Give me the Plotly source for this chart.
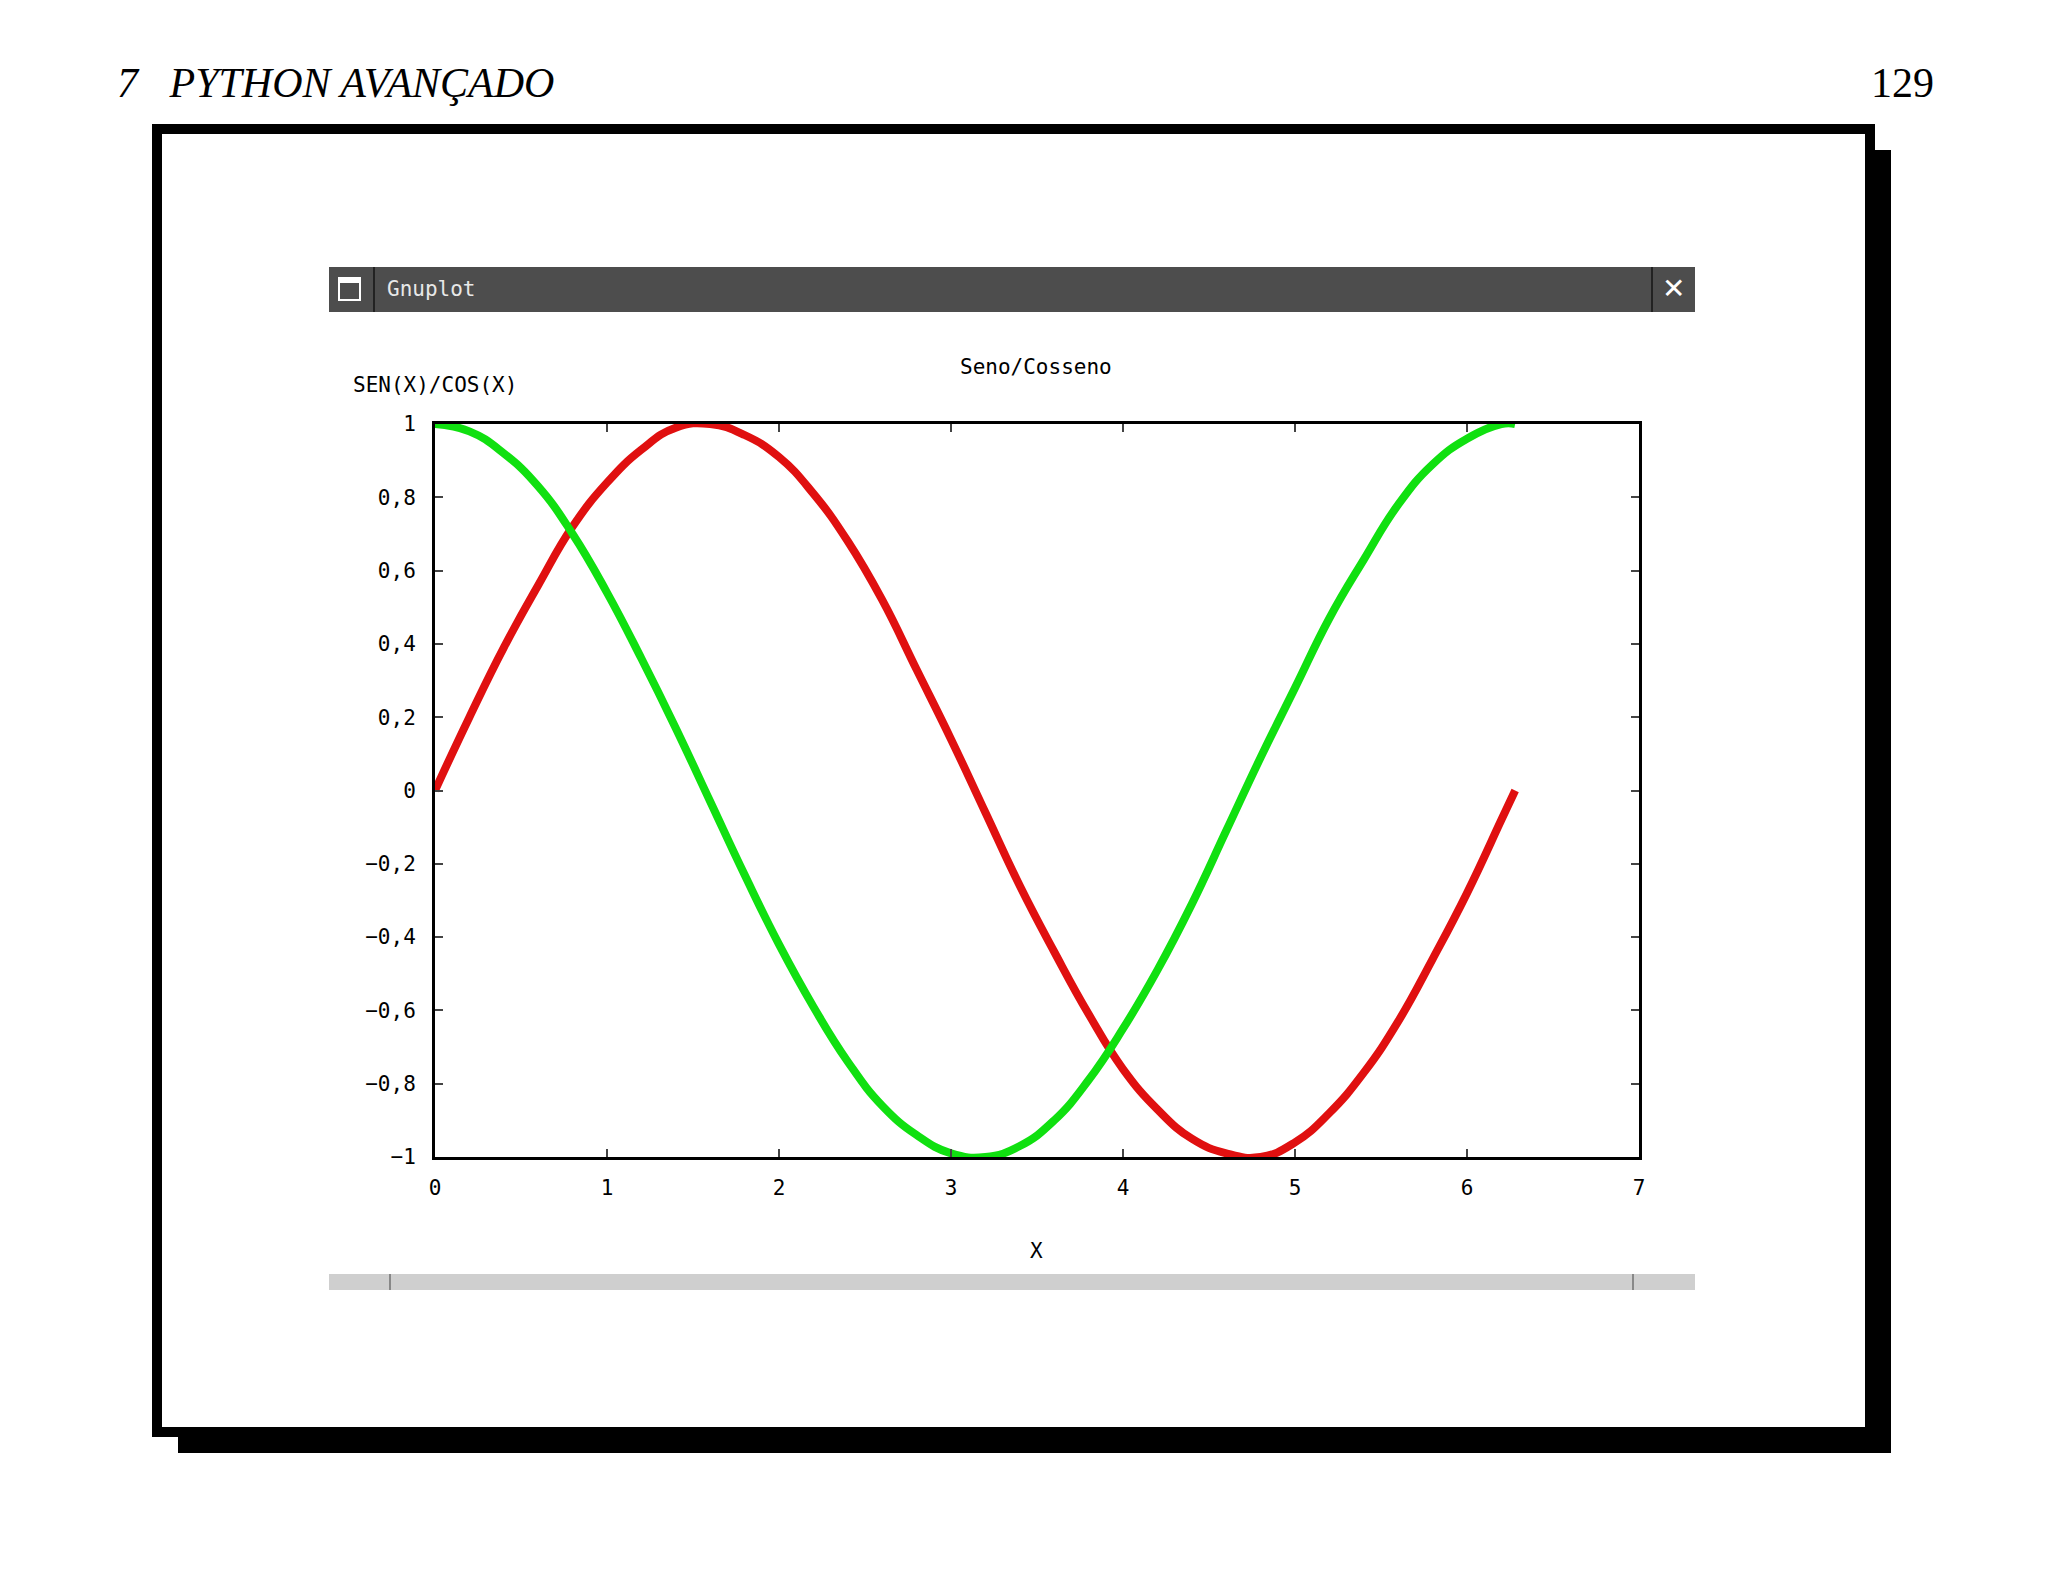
import plotly.graph_objects as go

x_vals = [0,0.2,0.4,0.6,0.8,1.0,1.2,1.4,1.6,1.8,2.0,2.2,2.4,2.6,2.8,3.0,3.2,3.4,3.6,3.8,4.0,4.2,4.4,4.6,4.8,5.0,5.2,5.4,5.6,5.8,6.0,6.2,6.28]
sen_vals = [0,0.2,0.39,0.56,0.72,0.84,0.93,0.99,1.0,0.97,0.91,0.81,0.68,0.52,0.33,0.14,-0.06,-0.26,-0.44,-0.61,-0.76,-0.87,-0.95,-0.99,-1.0,-0.96,-0.88,-0.77,-0.63,-0.46,-0.28,-0.08,0.0]
cos_vals = [1,0.98,0.92,0.83,0.70,0.54,0.36,0.17,-0.03,-0.23,-0.42,-0.59,-0.74,-0.86,-0.94,-0.99,-1.0,-0.97,-0.90,-0.79,-0.65,-0.49,-0.31,-0.11,0.09,0.28,0.47,0.63,0.78,0.89,0.96,1.0,1.0]
x_ticks = [0,1,2,3,4,5,6,7]
y_ticks = [-1,-0.8,-0.6,-0.4,-0.2,0,0.2,0.4,0.6,0.8,1]

W, H = 2048, 1582
DX, DY = -8, -7
L, R, T, B = 435 + DX, 1639 + DX, 423 + DY, 1156 + DY
def px(v): return (v + DX - L) / (R - L)
def py(v): return (B - (v + DY)) / (B - T)

MONO = "DejaVu Sans Mono"
fig = go.Figure()
fig.add_trace(go.Scatter(x=x_vals, y=sen_vals, mode="lines", line=dict(color="#e01010", width=8, shape="spline", smoothing=1.3)))
fig.add_trace(go.Scatter(x=x_vals, y=cos_vals, mode="lines", line=dict(color="#10e010", width=8, shape="spline", smoothing=1.3)))

shapes = []
def rect(x0, y0, x1, y1, fill, line=None, lw=0):
    shapes.append(dict(type="rect", xref="paper", yref="paper", x0=px(x0), x1=px(x1), y0=py(y1), y1=py(y0),
                       fillcolor=fill, line=dict(color=line or fill, width=lw), layer="below"))
rect(178, 149, 1891, 1452, "black")
rect(157, 128, 1870, 1431, "white", "black", 10)
rect(329, 266, 1695, 311, "#4d4d4d")
rect(339, 277, 360, 299, "#4d4d4d", "white", 2)
rect(339, 277, 360, 282, "white")
rect(373, 266, 375, 311, "#222222")
rect(1651, 266, 1653, 311, "#222222")
rect(329, 1273, 1695, 1289, "#cfcfcf")
rect(389, 1273, 391, 1289, "#888888")
rect(1632, 1273, 1634, 1289, "#888888")

ann = []
def text(x, y, s, size, font=MONO, color="black", xa="center", style="normal"):
    ann.append(dict(xref="paper", yref="paper", x=px(x), y=py(y), text=s, showarrow=False,
                    xanchor=xa, yanchor="middle", font=dict(family=font, size=size, color=color, style=style)))
text(115, 82, "7   PYTHON AVANÇADO", 42, "Liberation Serif", xa="left", style="italic")
text(1936, 82, "129", 42, "Liberation Serif", xa="right")
text(385, 288, "Gnuplot", 21, color="#e8e8e8", xa="left")
text(1673, 288, "✕", 28, "DejaVu Sans", color="white")
text(1036, 366, "Seno/Cosseno", 21)
text(435, 384, "SEN(X)/COS(X)", 21)
text(1036, 1250, "X", 21)

fig.update_layout(
    width=W, height=H, autosize=False, showlegend=False,
    margin=dict(l=L, r=W - R, t=T, b=H - B),
    paper_bgcolor="white", plot_bgcolor="white",
    separators=",.", shapes=shapes, annotations=ann,
    xaxis=dict(range=[0, 7], tickvals=x_ticks, ticks="inside", ticklen=8, tickwidth=2, mirror="ticks",
               showline=True, linecolor="black", linewidth=3, showgrid=False, zeroline=False,
               tickfont=dict(family=MONO, size=21, color="black"), ticklabelstandoff=10),
    yaxis=dict(range=[-1, 1], tickvals=y_ticks, ticks="inside", ticklen=8, tickwidth=2, mirror="ticks",
               showline=True, linecolor="black", linewidth=3, showgrid=False, zeroline=False,
               tickfont=dict(family=MONO, size=21, color="black"), ticklabelstandoff=12),
)
fig.write_html("out.html")
